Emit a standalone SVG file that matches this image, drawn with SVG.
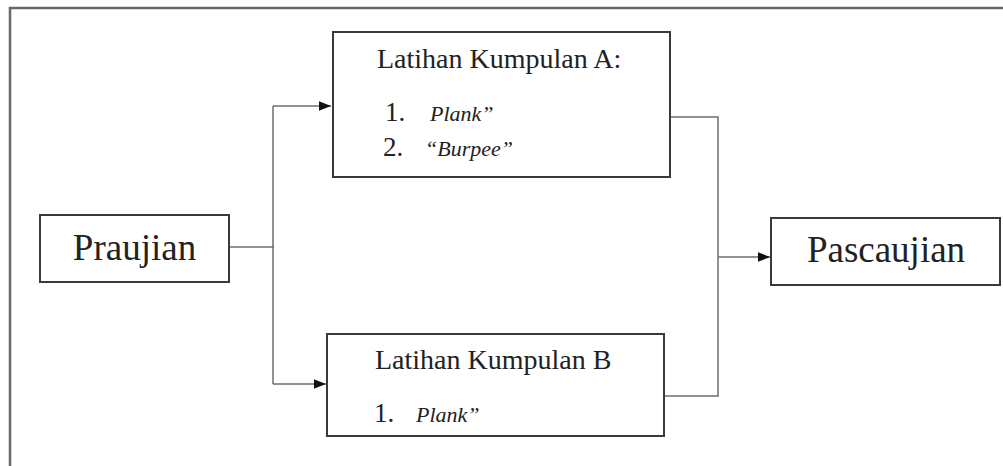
<svg xmlns="http://www.w3.org/2000/svg" width="1003" height="466" viewBox="0 0 1003 466">
<style>
.box{fill:#fff;stroke:#3a3a3a;stroke-width:2}
.frame{fill:none;stroke:#6a6a6a;stroke-width:2.5}
.con{fill:none;stroke:#6e6e6e;stroke-width:1.5}
.t{font-family:"Liberation Serif",serif;fill:#222}
.big{font-size:37px}
.mid{font-size:28px}
.num{font-size:27px}
.it{font-style:italic;font-size:22px}
</style>
<defs>
<marker id="ah" viewBox="0 0 10 10" refX="10" refY="5" markerWidth="12" markerHeight="12" markerUnits="userSpaceOnUse" orient="auto">
<path d="M0,1 L10,5 L0,9 Z" fill="#111"/>
</marker>
</defs>
<rect width="1003" height="466" fill="#fff"/>
<path class="frame" d="M10,470 L10,8 L1010,8"/>
<g id="connectors">
<path class="con" d="M229,247 L274,247"/>
<path class="con" d="M273,106 L273,384"/>
<path class="con" d="M273,106 L331,106" marker-end="url(#ah)"/>
<path class="con" d="M273,384 L326,384" marker-end="url(#ah)"/>
<path class="con" d="M670,117 L718,117 L718,396 L665,396"/>
<path class="con" d="M718,257 L770,257" marker-end="url(#ah)"/>
</g>
<g id="praujian">
<rect class="box" x="40" y="215" width="189" height="67"/>
<text class="t big" x="134.5" y="260" text-anchor="middle">Praujian</text>
</g>
<g id="kumpulanA">
<rect class="box" x="333" y="32" width="337" height="145"/>
<text class="t mid" x="377" y="68">Latihan Kumpulan A:</text>
<text class="t num" x="385" y="121">1.</text>
<text class="t it" x="430" y="121">Plank”</text>
<text class="t num" x="383" y="156">2.</text>
<text class="t it" x="425" y="156">“Burpee”</text>
</g>
<g id="kumpulanB">
<rect class="box" x="327" y="334" width="337" height="102"/>
<text class="t mid" x="375" y="369">Latihan Kumpulan B</text>
<text class="t num" x="374" y="422">1.</text>
<text class="t it" x="416" y="422">Plank”</text>
</g>
<g id="pascaujian">
<rect class="box" x="771" y="218" width="229" height="67"/>
<text class="t big" x="886" y="262" text-anchor="middle">Pascaujian</text>
</g>
</svg>
